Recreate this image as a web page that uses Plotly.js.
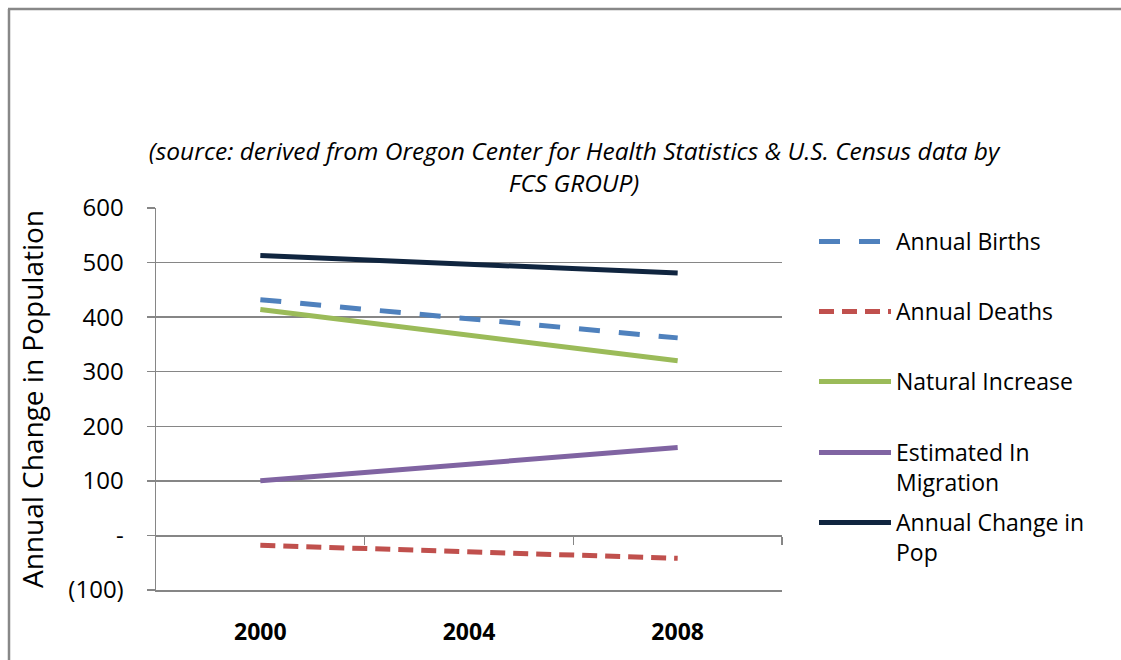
<!DOCTYPE html>
<html lang="en">
<head>
    <meta charset="UTF-8">
    <title>Annual Change in Population</title>
    <script src="https://cdn.plot.ly/plotly-3.0.1.min.js"></script>
    <style>
        body, html {
            margin: 0;
            padding: 0;
            background: white;
        }
        #chart {
            width: 1121px;
            height: 660px;
        }
    </style>
</head>
<body>
    <div id="chart"></div>
    <script>
        // chart data
        const years = ['2000', '2004', '2008'];
        const annualBirths = [432, 397, 362];
        const annualDeaths = [-18, -30, -42];
        const naturalIncrease = [414, 366, 320];
        const inMigration = [100, 130, 161];
        const annualChange = [513, 497, 481];
        const yTicks = [-100, 0, 100, 200, 300, 400, 500, 600];

        const FONT = 'Open Sans, sans-serif';
        const GRID = '#868686';

        // plot area in pixels
        const L = 156, R = 782, T = 208, B = 590;
        const px2x = px => (px - L) / (R - L);
        const px2y = py => (B - py) / (B - T);

        // accounting-style labels: (100), -, 100
        const tickText = yTicks.map(v => v < 0 ? '(' + Math.abs(v) + ')' : (v === 0 ? '-' : String(v)));

        const series = [
            {name: 'Annual Births', y: annualBirths, color: '#4f81bd', dash: '21px,19px'},
            {name: 'Annual Deaths', y: annualDeaths, color: '#c0504d', dash: '15px,8px'},
            {name: 'Natural Increase', y: naturalIncrease, color: '#9bbb59', dash: 'solid'},
            {name: 'Estimated In<br>Migration', y: inMigration, color: '#8064a2', dash: 'solid'},
            {name: 'Annual Change in<br>Pop', y: annualChange, color: '#10253f', dash: 'solid'}
        ];

        // legend rows, first-line centre in pixels
        const legendRows = [241, 311, 381, 452, 522];

        const data = series.map((s, i) => ({
            x: years,
            y: s.y,
            name: s.name,
            type: 'scatter',
            mode: 'lines',
            line: {color: s.color, width: 5, dash: s.dash},
            legend: i === 0 ? 'legend' : 'legend' + (i + 1),
            hoverinfo: 'skip'
        }));

        // empty trace so the zero-line axis with the boundary ticks gets drawn
        data.push({x: [null], y: [null], xaxis: 'x2', yaxis: 'y', showlegend: false, hoverinfo: 'skip'});

        const layout = {
            width: 1121,
            height: 660,
            margin: {l: L, r: 1121 - R, t: T, b: 660 - B},
            paper_bgcolor: 'white',
            plot_bgcolor: 'white',
            font: {family: FONT, color: '#000'},
            title: {
                text: '(source: derived from Oregon Center for Health Statistics &amp; U.S. Census data by<br>FCS GROUP)',
                font: {family: FONT, size: 24.5, style: 'italic', color: '#000'},
                xref: 'paper',
                x: px2x(574),
                xanchor: 'center',
                yref: 'container',
                y: 1 - 160 / 660,
                yanchor: 'top'
            },
            xaxis: {
                type: 'category',
                range: [-0.5, 2.5],
                showgrid: false,
                showline: true,
                linecolor: GRID,
                linewidth: 1.5,
                ticks: '',
                tickfont: {family: FONT, size: 23, weight: 'bold'},
                ticklabelstandoff: 21,
                fixedrange: true
            },
            xaxis2: {
                overlaying: 'x',
                anchor: 'free',
                position: 100 / 700,
                range: [-0.5, 2.5],
                tickvals: [0.5, 1.5, 2.5],
                showticklabels: false,
                showgrid: false,
                zeroline: false,
                showline: true,
                linecolor: GRID,
                linewidth: 1.5,
                ticks: 'outside',
                ticklen: 8,
                tickcolor: GRID,
                tickwidth: 1.5
            },
            yaxis: {
                range: [-100, 600],
                tickvals: yTicks,
                ticktext: tickText,
                tickfont: {family: FONT, size: 24},
                ticks: 'outside',
                ticklen: 8,
                tickcolor: GRID,
                tickwidth: 1.5,
                ticklabelstandoff: 18,
                showline: true,
                linecolor: GRID,
                linewidth: 1.5,
                gridcolor: GRID,
                gridwidth: 1.5,
                zeroline: false,
                title: {
                    text: 'Annual Change in Population',
                    font: {family: FONT, size: 28, color: '#000'},
                    standoff: 16
                },
                fixedrange: true
            },
            shapes: [
                // outer chart frame (left and top edges visible)
                {type: 'line', xref: 'paper', yref: 'paper', x0: px2x(9), x1: px2x(9), y0: px2y(9), y1: px2y(670),
                 line: {color: '#888888', width: 2.5}},
                {type: 'line', xref: 'paper', yref: 'paper', x0: px2x(8), x1: px2x(1130), y0: px2y(9), y1: px2y(9),
                 line: {color: '#888888', width: 2.5}}
            ],
            showlegend: true
        };

        // one small legend per entry so each row sits where it does in the picture
        legendRows.forEach((row, i) => {
            const key = i === 0 ? 'legend' : 'legend' + (i + 1);
            layout[key] = {
                x: px2x(814),
                xanchor: 'left',
                y: px2y(row - 21),
                yanchor: 'top',
                valign: 'top',
                itemwidth: 72,
                bgcolor: 'rgba(0,0,0,0)',
                font: {family: FONT, size: 23, color: '#000'},
                tracegroupgap: 0
            };
        });

        Plotly.newPlot('chart', data, layout, {displayModeBar: false, staticPlot: true});
    </script>
</body>
</html>
